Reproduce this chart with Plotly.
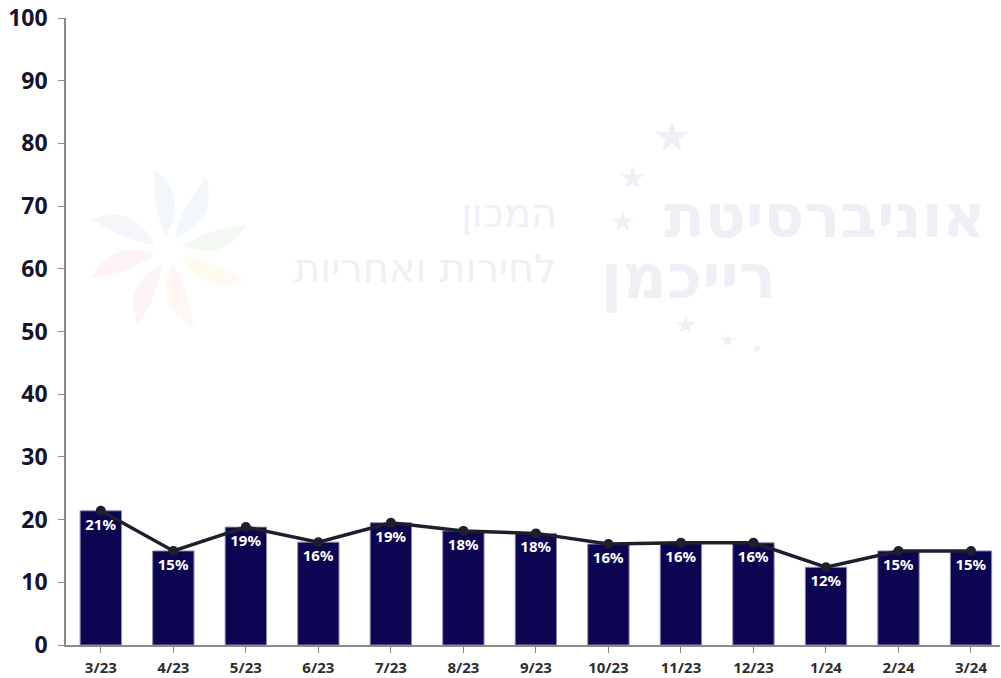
import math
import plotly.graph_objects as go

months = ["3/23", "4/23", "5/23", "6/23", "7/23", "8/23", "9/23",
          "10/23", "11/23", "12/23", "1/24", "2/24", "3/24"]
values = [21.4, 15.0, 18.8, 16.4, 19.5, 18.2, 17.8, 16.1, 16.3, 16.3, 12.4, 15.0, 15.0]
labels = ["21%", "15%", "19%", "16%", "19%", "18%", "18%", "16%", "16%", "16%", "12%", "15%", "15%"]
y_ticks = [0, 10, 20, 30, 40, 50, 60, 70, 80, 90, 100]

BAR = "#0c0552"
LINE = "#1e1e2c"
FONT = "Noto Sans"

fig = go.Figure()
fig.add_trace(go.Bar(
    x=months, y=values, text=labels,
    textposition="inside", insidetextanchor="end", textangle=0,
    textfont=dict(color="white", size=15, family=FONT, weight="bold"),
    marker=dict(color=BAR, line=dict(color="#8c8ab0", width=1)),
    width=0.57, cliponaxis=False, hoverinfo="skip", showlegend=False,
))
fig.add_trace(go.Scatter(
    x=months, y=values, mode="lines+markers",
    line=dict(color=LINE, width=3.5),
    marker=dict(color=LINE, size=10),
    showlegend=False, hoverinfo="skip",
))

# faint watermark (screen-pixel geometry -> paper coords)
wm = "#eff0f6"
def px(x):
    return (x - 66) / 934
def py(y):
    return (645 - y) / 627

def ann(x, y, text, size, anchor="right"):
    fig.add_annotation(x=px(x), y=py(y), xref="paper", yref="paper", text=text,
                       showarrow=False, xanchor=anchor, yanchor="middle",
                       font=dict(size=size, color=wm, family="DejaVu Sans"))

ann(988, 216, "<b>אוניברסיטת</b>", 60)
ann(778, 276, "<b>רייכמן</b>", 62)
ann(559, 213, "המכון", 40)
ann(559, 268, "לחירות ואחריות", 40)
for sx, sy, ss in [(672, 137, 42), (632, 177, 30), (622, 221, 28), (686, 325, 24), (727, 340, 17), (757, 348, 11)]:
    ann(sx, sy, "★", ss, anchor="center")

# faint flower logo
cx, cy = 168, 250
petals = [(100, "#f2f7fc"), (62, "#f2f7fc"), (18, "#f4f9f3"), (-22, "#fefaf2"),
          (-72, "#fef7f3"), (-112, "#fdf4f6"), (-160, "#fdf3f6"), (158, "#f7f4fa")]
for ang, col in petals:
    a = math.radians(ang)
    dx, dy = math.cos(a), -math.sin(a)
    nx, ny = -dy, dx
    p0 = (cx + 14 * dx, cy + 14 * dy)
    p1 = (cx + 82 * dx, cy + 82 * dy)
    c1 = (cx + 50 * dx + 30 * nx, cy + 50 * dy + 30 * ny)
    c2 = (cx + 45 * dx - 8 * nx, cy + 45 * dy - 8 * ny)
    path = (f"M {px(p0[0])},{py(p0[1])} Q {px(c1[0])},{py(c1[1])} {px(p1[0])},{py(p1[1])} "
            f"Q {px(c2[0])},{py(c2[1])} {px(p0[0])},{py(p0[1])} Z")
    fig.add_shape(type="path", path=path, xref="paper", yref="paper",
                  fillcolor=col, line=dict(width=0), layer="below")

fig.update_layout(
    width=1001, height=678,
    margin=dict(l=66, r=1, t=18, b=33, autoexpand=False),
    plot_bgcolor="white", paper_bgcolor="white",
    xaxis=dict(
        range=[-0.48, 12.4], showgrid=False, showline=True, linecolor="#8a8a8a", linewidth=1.5,
        ticks="outside", ticklen=6, tickcolor="#8a8a8a", ticklabelstandoff=2,
        ticklabeloverflow="allow", automargin=False,
        tickfont=dict(size=15, color="#2e2e2e", family=FONT, weight="bold"),
    ),
    yaxis=dict(
        range=[0, 100], tickvals=y_ticks, showgrid=False, zeroline=False,
        showline=True, linecolor="#8a8a8a", linewidth=1.5,
        ticks="outside", ticklen=6, tickcolor="#8a8a8a", ticklabelstandoff=6,
        ticklabeloverflow="allow", automargin=False,
        tickfont=dict(size=23, color="#141430", family=FONT, weight="bold"),
    ),
)

fig.write_html("out.html", config={"displayModeBar": False},
               post_script="document.body.style.margin='0';")
